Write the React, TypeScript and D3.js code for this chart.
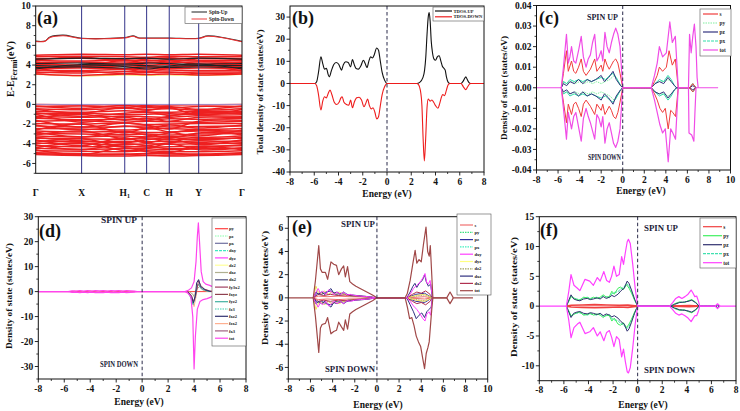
import React from 'react';
import * as d3 from 'd3';

type Pt = [number, number];

const SERIF = '"Liberation Serif", "Times New Roman", serif';

// ---------- (a) band structure ----------
const K_POS = [0, 0.2226, 0.4316, 0.5377, 0.6473, 0.7901, 1];
const K_LABELS = ['Γ', 'X', 'H1', 'C', 'H', 'Y', 'Γ'];

// energies at Γ, X, H1, C, H, Y, Γ
const VB_DOWN: number[][] = [
  [-0.02, -0.05, -0.03, -0.08, -0.05, -0.04, -0.02],
  [-0.15, -0.4, -0.1, -0.3, -0.2, -0.5, -0.15],
  [-0.25, -0.15, -0.3, -0.2, -0.35, -0.2, -0.25],
  [-0.5, -0.9, -0.3, -0.6, -0.35, -1.1, -0.5],
  [-0.45, -0.55, -0.4, -0.5, -0.45, -0.6, -0.45],
  [-0.7, -0.8, -0.65, -0.75, -0.8, -0.7, -0.7],
  [-0.85, -1.2, -0.9, -0.8, -1.1, -0.9, -0.85],
  [-0.95, -0.9, -1.05, -1.0, -0.95, -1.0, -0.95],
  [-1.0, -1.8, -1.3, -1.6, -1.2, -0.8, -1.0],
  [-1.2, -1.3, -1.2, -1.25, -1.3, -1.15, -1.2],
  [-1.35, -1.0, -1.6, -1.4, -1.7, -1.3, -1.35],
  [-1.4, -1.55, -1.5, -1.6, -1.45, -1.5, -1.4],
  [-1.6, -2.3, -1.9, -2.1, -2.5, -1.7, -1.6],
  [-1.7, -1.65, -1.8, -1.7, -1.75, -1.8, -1.7],
  [-1.95, -2.0, -1.9, -2.05, -2.0, -1.95, -1.95],
  [-2.1, -2.6, -2.2, -2.4, -2.1, -2.4, -2.1],
  [-2.2, -2.3, -2.25, -2.2, -2.3, -2.25, -2.2],
  [-2.45, -2.5, -2.6, -2.5, -2.45, -2.55, -2.45],
  [-2.6, -2.0, -2.9, -2.4, -2.8, -3.2, -2.6],
  [-2.7, -2.8, -2.75, -2.85, -2.8, -2.7, -2.7],
  [-2.8, -3.3, -2.8, -3.1, -3.4, -2.9, -2.8],
  [-2.95, -3.0, -3.05, -3.0, -3.1, -3.0, -2.95],
  [-3.1, -2.7, -3.5, -3.3, -2.9, -2.6, -3.1],
  [-3.2, -3.3, -3.2, -3.3, -3.25, -3.35, -3.2],
  [-3.35, -3.7, -3.9, -3.6, -3.35, -3.6, -3.35],
  [-3.45, -3.5, -3.55, -3.5, -3.6, -3.5, -3.45],
  [-3.6, -4.2, -3.4, -3.9, -3.5, -4.1, -3.6],
  [-3.7, -3.8, -3.75, -3.8, -3.75, -3.85, -3.7],
  [-3.85, -3.5, -4.3, -4.2, -3.9, -3.7, -3.85],
  [-3.95, -4.0, -4.1, -4.0, -4.05, -4.0, -3.95],
  [-4.1, -4.6, -4.0, -4.2, -4.5, -4.4, -4.1],
  [-4.2, -4.3, -4.25, -4.35, -4.3, -4.25, -4.2],
  [-4.4, -3.9, -4.7, -4.5, -4.0, -4.6, -4.4],
  [-4.45, -4.55, -4.5, -4.5, -4.6, -4.5, -4.45],
  [-4.6, -5.1, -4.4, -4.8, -4.9, -4.3, -4.6],
  [-4.7, -4.75, -4.8, -4.7, -4.8, -4.8, -4.7],
  [-4.9, -5.0, -5.05, -5.0, -5.0, -5.05, -4.9],
  [-5.0, -5.15, -5.1, -5.15, -5.15, -5.1, -5.0],
  [-5.1, -5.2, -5.25, -5.2, -5.25, -5.2, -5.1],
];

const CB_DOWN: number[][] = [
  [3.1, 2.95, 3.1, 3.05, 3.1, 3.0, 3.1],
  [3.2, 3.35, 3.15, 3.25, 3.3, 3.15, 3.2],
  [3.3, 3.2, 3.35, 3.3, 3.25, 3.3, 3.3],
  [3.5, 3.45, 3.55, 3.5, 3.5, 3.45, 3.5],
  [3.4, 3.9, 3.6, 3.3, 3.7, 3.95, 3.4],
  [3.65, 3.7, 3.6, 3.7, 3.65, 3.7, 3.65],
  [3.85, 3.8, 3.9, 3.85, 3.8, 3.9, 3.85],
  [4.05, 4.0, 4.1, 4.0, 4.05, 4.0, 4.05],
  [4.3, 3.9, 4.5, 4.2, 4.4, 4.1, 4.3],
  [4.25, 4.3, 4.2, 4.3, 4.25, 4.3, 4.25],
  [4.45, 4.4, 4.5, 4.45, 4.5, 4.4, 4.45],
  [4.55, 4.8, 4.4, 4.6, 4.75, 4.5, 4.55],
  [4.65, 4.7, 4.6, 4.7, 4.65, 4.7, 4.65],
  [4.85, 4.9, 4.85, 4.8, 4.9, 4.85, 4.85],
  [5.0, 5.1, 5.05, 5.1, 5.05, 5.1, 5.0],
];

const CB_UP: number[][] = [
  [3.75, 3.8, 3.7, 3.8, 3.75, 3.8, 3.75],
  [3.95, 3.9, 4.0, 3.95, 3.9, 3.95, 3.95],
  [4.15, 4.2, 4.1, 4.2, 4.15, 4.1, 4.15],
  [4.6, 4.7, 4.65, 4.7, 4.6, 4.7, 4.6],
  [3.6, 4.05, 3.85, 3.6, 3.9, 4.1, 3.6],
];

const CB_EDGE = [3.05, 2.9, 3.0, 2.95, 3.0, 2.95, 3.05];

const TOP_K = [0, 0.045, 0.069, 0.134, 0.2226, 0.4316, 0.473, 0.497, 0.5377, 0.6473, 0.7901, 0.835, 1];
const TOP_UP = [6.43, 6.45, 6.85, 7.04, 6.73, 6.8, 6.97, 6.77, 6.75, 6.75, 6.73, 6.97, 6.4];
const TOP_DOWN = [6.4, 6.42, 6.8, 6.98, 6.7, 6.76, 6.92, 6.74, 6.72, 6.72, 6.7, 6.92, 6.37];

const A_YTICKS = [-6, -4, -2, 0, 2, 4, 6, 8, 10];
const A_YMINOR = [-7, -5, -3, -1, 1, 3, 5, 7, 9];

// ---------- (b) total DOS ----------
const B_UP: Pt[] = [[-8, 0], [-5.95, 0], [-5.8, 0.8], [-5.65, 5], [-5.45, 12], [-5.3, 9], [-5.15, 6.5], [-5.0, 6.8], [-4.85, 4], [-4.75, 3], [-4.6, 5.5], [-4.4, 8.5], [-4.2, 9.5], [-4.0, 8.8], [-3.85, 7], [-3.75, 6], [-3.6, 8.5], [-3.4, 9.8], [-3.2, 9.5], [-3.0, 7.5], [-2.85, 10.8], [-2.7, 8.5], [-2.55, 6.8], [-2.35, 6.5], [-2.15, 8], [-1.95, 10.5], [-1.8, 9], [-1.65, 7.2], [-1.5, 10], [-1.35, 12], [-1.2, 11.5], [-1.05, 13], [-0.85, 16], [-0.7, 15], [-0.55, 10], [-0.4, 5], [-0.2, 1.5], [0, 0], [2.45, 0], [2.7, 0.5], [2.95, 2.5], [3.1, 6], [3.2, 12], [3.3, 22], [3.4, 30], [3.48, 32], [3.56, 28], [3.65, 19], [3.75, 14], [3.88, 11], [4.0, 10.5], [4.15, 12], [4.3, 12.5], [4.45, 10], [4.55, 8], [4.7, 6.8], [4.8, 6], [4.9, 3], [5.05, 0.5], [5.2, 0], [6.1, 0], [6.3, 1.2], [6.5, 3], [6.6, 2], [6.75, 0.5], [6.9, 0], [8, 0]];
const B_DOWN: Pt[] = [[-8, 0], [-5.95, 0], [-5.8, -1], [-5.65, -5], [-5.45, -12], [-5.3, -8], [-5.15, -6], [-5.0, -6.5], [-4.85, -4.5], [-4.7, -3], [-4.55, -5], [-4.35, -8.5], [-4.15, -9.5], [-3.95, -8.5], [-3.8, -6.5], [-3.7, -6], [-3.55, -8.5], [-3.35, -9.5], [-3.15, -9.8], [-3.0, -7.5], [-2.85, -11], [-2.7, -8.5], [-2.5, -6.5], [-2.3, -6.2], [-2.1, -7.5], [-1.9, -10.5], [-1.75, -9], [-1.6, -7], [-1.45, -10], [-1.3, -11.5], [-1.15, -11], [-1.0, -13], [-0.85, -16], [-0.7, -15], [-0.55, -10], [-0.4, -5], [-0.2, -1.5], [0, 0], [2.45, 0], [2.6, -0.5], [2.75, -3], [2.88, -10], [2.98, -25], [3.08, -35], [3.18, -26], [3.3, -11], [3.4, -7], [3.55, -8], [3.7, -7.5], [3.85, -8.5], [4.0, -10], [4.2, -11.2], [4.35, -9], [4.5, -6], [4.6, -5], [4.75, -5.5], [4.9, -3], [5.05, -0.5], [5.2, 0], [6.1, 0], [6.3, -1.5], [6.5, -2.8], [6.65, -1.5], [6.8, -0.3], [6.9, 0], [8, 0]];
const B_YTICKS = [-40, -30, -20, -10, 0, 10, 20, 30];
const B_YMINOR = [-35, -25, -15, -5, 5, 15, 25];

// ---------- (c) PDOS ----------
const C_S_UP: Pt[] = [[-5.7, 0], [-5.5, 0.007], [-5.22, 0.018], [-5.05, 0.008], [-4.75, 0.013], [-4.55, 0.008], [-4.35, 0.007], [-4.1, 0.01], [-3.85, 0.014], [-3.65, 0.008], [-3.4, 0.006], [-3.0, 0.009], [-2.6, 0.014], [-2.4, 0.008], [-2.0, 0.011], [-1.85, 0.008], [-1.65, 0.014], [-1.45, 0.011], [-1.25, 0.009], [-1.05, 0.011], [-0.85, 0.013], [-0.65, 0.014], [-0.45, 0.012], [-0.25, 0.007], [0, 0], [2.65, 0], [2.95, 0.003], [3.2, 0.006], [3.4, 0.01], [3.7, 0.008], [4.05, 0.01], [4.3, 0.018], [4.6, 0.011], [4.88, 0.014], [5.15, 0], [6.2, 0], [6.5, 0.002], [6.8, 0]];
const C_PY_UP: Pt[] = [[-5.7, 0], [-5.5, 0.003], [-5.2, 0.002], [-4.8, 0.003], [-4.4, 0.002], [-4.0, 0.003], [-3.6, 0.002], [-3.2, 0.003], [-2.8, 0.002], [-2.4, 0.003], [-2.0, 0.002], [-1.6, 0.003], [-1.2, 0.004], [-0.8, 0.006], [-0.4, 0.003], [0, 0], [2.65, 0], [3.0, 0.002], [3.4, 0.003], [3.8, 0.003], [4.2, 0.004], [4.5, 0.003], [5.0, 0], [6.2, 0], [6.5, 0.002], [6.8, 0]];
const C_PZ_UP: Pt[] = [[-5.7, 0], [-5.5, 0.002], [-5.2, 0.001], [-4.9, 0.003], [-4.5, 0.002], [-4.1, 0.004], [-3.7, 0.002], [-3.3, 0.004], [-2.9, 0.003], [-2.5, 0.004], [-2.0, 0.006], [-1.7, 0.003], [-1.3, 0.005], [-0.9, 0.008], [-0.6, 0.004], [-0.2, 0.001], [0, 0], [2.65, 0], [3.0, 0.002], [3.4, 0.003], [3.8, 0.002], [4.2, 0.005], [4.5, 0.003], [4.8, 0.001], [5.0, 0], [6.2, 0], [6.5, 0.001], [6.8, 0]];
const C_PX_UP: Pt[] = [[-5.7, 0], [-5.5, 0.003], [-5.2, 0.002], [-4.9, 0.004], [-4.5, 0.003], [-4.1, 0.004], [-3.7, 0.003], [-3.3, 0.004], [-2.9, 0.003], [-2.5, 0.004], [-2.0, 0.005], [-1.6, 0.004], [-1.2, 0.006], [-0.9, 0.007], [-0.6, 0.005], [-0.2, 0.001], [0, 0], [2.65, 0], [3.0, 0.002], [3.4, 0.004], [3.8, 0.003], [4.2, 0.006], [4.5, 0.004], [4.8, 0.001], [5.0, 0], [6.2, 0], [6.5, 0.002], [6.8, 0]];
const C_TOT_UP: Pt[] = [[-5.7, 0], [-5.5, 0.01], [-5.22, 0.026], [-5.05, 0.012], [-4.9, 0.015], [-4.75, 0.02], [-4.55, 0.013], [-4.35, 0.012], [-4.1, 0.018], [-3.85, 0.025], [-3.65, 0.015], [-3.4, 0.01], [-3.2, 0.014], [-3.0, 0.016], [-2.8, 0.022], [-2.6, 0.026], [-2.4, 0.013], [-2.2, 0.015], [-2.0, 0.018], [-1.85, 0.013], [-1.65, 0.027], [-1.45, 0.02], [-1.25, 0.017], [-1.05, 0.022], [-0.85, 0.026], [-0.65, 0.029], [-0.45, 0.026], [-0.25, 0.02], [0, 0], [2.65, 0], [2.95, 0.006], [3.2, 0.012], [3.4, 0.02], [3.7, 0.015], [4.05, 0.017], [4.37, 0.032], [4.6, 0.022], [4.88, 0.025], [5.15, 0], [6.1, 0], [6.2, 0.026], [6.35, 0.017], [6.5, 0.025], [6.65, 0.031], [6.8, 0.02], [6.9, 0.005], [7.0, 0]];
const C_TOT_DOWN: Pt[] = [[-5.7, 0], [-5.5, -0.01], [-5.22, -0.025], [-5.05, -0.012], [-4.9, -0.016], [-4.75, -0.02], [-4.55, -0.014], [-4.35, -0.012], [-4.1, -0.019], [-3.85, -0.026], [-3.65, -0.015], [-3.4, -0.01], [-3.2, -0.014], [-3.0, -0.017], [-2.8, -0.021], [-2.6, -0.025], [-2.4, -0.013], [-2.2, -0.015], [-2.0, -0.019], [-1.85, -0.014], [-1.65, -0.027], [-1.45, -0.02], [-1.25, -0.017], [-1.05, -0.022], [-0.85, -0.027], [-0.65, -0.029], [-0.45, -0.026], [-0.25, -0.02], [0, 0], [2.65, 0], [2.95, -0.006], [3.2, -0.012], [3.45, -0.018], [3.7, -0.022], [3.95, -0.02], [4.22, -0.036], [4.45, -0.02], [4.65, -0.022], [4.9, -0.025], [5.15, 0], [6.1, 0], [6.15, -0.022], [6.4, -0.023], [6.6, -0.026], [6.7, -0.012], [6.8, 0]];
const C_S_DOWN: Pt[] = [[-5.7, 0], [-5.5, -0.007], [-5.22, -0.017], [-5.05, -0.008], [-4.75, -0.013], [-4.55, -0.008], [-4.35, -0.007], [-4.1, -0.01], [-3.85, -0.014], [-3.65, -0.008], [-3.4, -0.006], [-3.0, -0.009], [-2.6, -0.013], [-2.4, -0.008], [-2.0, -0.011], [-1.85, -0.008], [-1.65, -0.013], [-1.45, -0.011], [-1.25, -0.009], [-1.05, -0.011], [-0.85, -0.014], [-0.65, -0.015], [-0.45, -0.012], [-0.25, -0.007], [0, 0], [2.65, 0], [2.95, -0.003], [3.2, -0.006], [3.45, -0.01], [3.7, -0.012], [3.95, -0.01], [4.22, -0.02], [4.45, -0.011], [4.65, -0.012], [4.9, -0.014], [5.15, 0], [6.2, 0], [6.5, -0.002], [6.8, 0]];
const C_YTICKS = [-0.04, -0.03, -0.02, -0.01, 0, 0.01, 0.02, 0.03, 0.04];
const C_YMINOR = [-0.035, -0.025, -0.015, -0.005, 0.005, 0.015, 0.025, 0.035];

// ---------- (d) PDOS ----------
const D_TOT_UP: Pt[] = [[-5.7, 0], [-5.4, 0.3], [-5.1, 0.2], [-4.8, 0.4], [-4.5, 0.2], [-4.2, 0.4], [-3.9, 0.2], [-3.6, 0.4], [-3.3, 0.3], [-3.0, 0.4], [-2.7, 0.2], [-2.4, 0.4], [-2.1, 0.3], [-1.8, 0.4], [-1.5, 0.2], [-1.2, 0.4], [-0.9, 0.3], [-0.6, 0.2], [-0.4, 0], [3.3, 0], [3.55, 0.5], [3.8, 1.5], [4.0, 4], [4.15, 12], [4.25, 22], [4.33, 27.5], [4.42, 20], [4.55, 8], [4.7, 4], [4.9, 3], [5.2, 2.5], [5.5, 1.8], [5.7, 0.8], [5.85, 0.2], [6.0, 0]];
const D_TOT_DOWN: Pt[] = [[-5.7, 0], [-5.4, -0.3], [-5.1, -0.2], [-4.8, -0.4], [-4.5, -0.2], [-4.2, -0.4], [-3.9, -0.2], [-3.6, -0.4], [-3.3, -0.3], [-3.0, -0.4], [-2.7, -0.2], [-2.4, -0.4], [-2.1, -0.3], [-1.8, -0.4], [-1.5, -0.2], [-1.2, -0.4], [-0.9, -0.3], [-0.6, -0.2], [-0.4, 0], [3.3, 0], [3.5, -0.5], [3.75, -2], [3.9, -10], [4.0, -31], [4.1, -18], [4.25, -7], [4.45, -4], [4.7, -3.2], [5.0, -2.8], [5.3, -2.2], [5.55, -1.2], [5.75, -0.4], [5.9, 0]];
const D_FY3X2: Pt[] = [[3.5, 0], [3.8, -1.5], [3.95, -4], [4.1, -2], [4.2, 0.5], [4.35, 4.5], [4.5, 2.5], [4.8, 1], [5.2, 0.3], [5.6, 0]];
const D_FXZ2: Pt[] = [[3.5, 0], [3.8, -2], [3.95, -4.5], [4.1, -1.5], [4.2, 3.5], [4.35, 4.8], [4.5, 2], [4.9, 0.6], [5.3, 0]];
const D_FYZ2: Pt[] = [[3.5, 0], [3.8, -3], [3.92, -5.2], [4.1, -2], [4.2, 1], [4.3, 3], [4.55, 1.2], [5.0, 0.2], [5.3, 0]];
const D_FZX2: Pt[] = [[3.5, 0], [3.85, -3], [4.0, -6], [4.15, -2], [4.25, 2], [4.35, 3], [4.6, 1], [5.1, 0]];
const D_DXZ: Pt[] = [[3.6, 0], [3.9, -1], [4.0, -2], [4.15, 0.5], [4.4, 2], [4.7, 0.5], [5.2, 0]];
const D_PY: Pt[] = [[-5.6, 0], [-5.2, 0.15], [-4.6, -0.1], [-4.0, 0.2], [-3.4, -0.15], [-2.8, 0.15], [-2.2, -0.1], [-1.6, 0.15], [-1.0, -0.1], [-0.5, 0]];
const D_YTICKS = [-30, -20, -10, 0, 10, 20, 30];
const D_YMINOR = [-35, -25, -15, -5, 5, 15, 25];

// ---------- (e) PDOS ----------
const E_TOT_UP: Pt[] = [[-5.75, 0], [-5.55, 1.5], [-5.25, 4.5], [-5.1, 2.5], [-4.95, 2.2], [-4.65, 2.2], [-4.45, 1.6], [-4.15, 3.1], [-3.9, 2.9], [-3.65, 2.8], [-3.45, 2.0], [-3.2, 2.5], [-3.0, 2.75], [-2.85, 1.8], [-2.65, 2.7], [-2.45, 1.4], [-2.2, 1.2], [-1.9, 1.0], [-1.6, 0.85], [-1.3, 0.7], [-1.0, 0.55], [-0.7, 0.4], [-0.4, 0.25], [0, 0], [2.55, 0], [2.75, 0.4], [3.0, 1.5], [3.25, 3.0], [3.45, 4.1], [3.6, 3.0], [3.8, 3.3], [4.0, 3.1], [4.2, 4.6], [4.43, 6.1], [4.58, 4.0], [4.72, 3.6], [4.82, 4.5], [4.95, 2.0], [5.05, 0], [6.3, 0], [6.6, 0.5], [6.9, 0]];
const E_TOT_DOWN: Pt[] = [[-5.75, 0], [-5.55, -1.6], [-5.25, -4.7], [-5.1, -2.6], [-4.95, -2.3], [-4.65, -2.2], [-4.45, -1.7], [-4.15, -3.1], [-3.9, -2.9], [-3.65, -2.8], [-3.45, -2.1], [-3.2, -2.5], [-3.0, -2.8], [-2.85, -1.9], [-2.65, -2.7], [-2.45, -1.4], [-2.2, -1.2], [-1.9, -1.0], [-1.6, -0.85], [-1.3, -0.7], [-1.0, -0.55], [-0.7, -0.4], [-0.4, -0.25], [0, 0], [2.55, 0], [2.75, -0.8], [2.95, -1.8], [3.15, -1.7], [3.35, -2.4], [3.55, -3.3], [3.75, -3.8], [3.95, -4.2], [4.15, -5.3], [4.3, -6.1], [4.45, -4.8], [4.6, -4.3], [4.72, -3.8], [4.85, -2.2], [4.95, -1.0], [5.05, 0], [6.3, 0], [6.6, -0.5], [6.9, 0]];
const E_DXY_UP: Pt[] = [[-5.75, 0], [-5.55, 0.4], [-5.3, 0.8], [-5.1, 0.4], [-4.9, 0.6], [-4.6, 0.3], [-4.35, 0.7], [-4.1, 0.5], [-3.85, 0.3], [-3.6, 0.5], [-3.3, 0.3], [-3.0, 0.5], [-2.7, 0.25], [-2.4, 0.3], [-2.0, 0.2], [-1.5, 0.15], [-1.0, 0.12], [-0.5, 0.06], [0, 0], [2.7, 0], [3.0, 0.3], [3.3, 0.8], [3.5, 1.0], [3.75, 1.2], [4.0, 1.5], [4.2, 1.8], [4.34, 2.1], [4.5, 1.3], [4.65, 1.2], [4.8, 1.5], [4.95, 0.5], [5.05, 0]];
const E_DXY_DOWN: Pt[] = [[-5.75, 0], [-5.55, -0.4], [-5.3, -0.8], [-5.1, -0.4], [-4.9, -0.6], [-4.6, -0.3], [-4.35, -0.7], [-4.1, -0.5], [-3.85, -0.3], [-3.6, -0.5], [-3.3, -0.3], [-3.0, -0.5], [-2.7, -0.25], [-2.4, -0.3], [-2.0, -0.2], [-1.5, -0.15], [-1.0, -0.12], [-0.5, -0.06], [0, 0], [2.7, 0], [3.0, -0.3], [3.3, -0.7], [3.6, -1.0], [3.9, -1.4], [4.15, -1.8], [4.34, -2.0], [4.5, -1.4], [4.7, -1.2], [4.85, -1.5], [5.0, 0]];
const E_DXZ_UP: Pt[] = [[-5.75, 0], [-5.5, 0.5], [-5.3, 0.3], [-5.0, 0.5], [-4.7, 0.3], [-4.4, 0.6], [-4.15, 0.8], [-3.9, 0.4], [-3.6, 0.5], [-3.3, 0.3], [-3.0, 0.5], [-2.7, 0.3], [-2.3, 0.25], [-1.8, 0.2], [-1.2, 0.15], [-0.6, 0.08], [0, 0], [2.7, 0], [3.0, 0.5], [3.25, 1.0], [3.43, 1.25], [3.6, 0.9], [3.85, 1.3], [4.1, 1.5], [4.3, 2.0], [4.45, 1.4], [4.65, 1.0], [4.85, 1.2], [5.0, 0]];
const E_DXZ_DOWN: Pt[] = [[-5.75, 0], [-5.5, -0.5], [-5.3, -0.3], [-5.0, -0.5], [-4.7, -0.3], [-4.4, -0.6], [-4.15, -0.8], [-3.9, -0.4], [-3.6, -0.5], [-3.3, -0.3], [-3.0, -0.5], [-2.7, -0.3], [-2.3, -0.25], [-1.8, -0.2], [-1.2, -0.15], [-0.6, -0.08], [0, 0], [2.7, 0], [3.0, -0.6], [3.3, -1.2], [3.55, -1.8], [3.8, -1.5], [4.05, -1.3], [4.3, -1.7], [4.5, -1.2], [4.7, -1.0], [4.9, -0.8], [5.0, 0]];
const E_DYZ_UP: Pt[] = [[-5.75, 0], [-5.5, 1.0], [-5.3, 0.5], [-5.0, 0.4], [-4.7, 0.6], [-4.4, 0.3], [-4.1, 0.5], [-3.8, 0.4], [-3.4, 0.5], [-3.0, 0.3], [-2.5, 0.2], [-2.0, 0.15], [-1.0, 0.1], [0, 0], [2.7, 0], [3.5, 0.2], [4.3, 0.3], [5.0, 0]];
const E_DZ2_UP: Pt[] = [[-5.75, 0], [-5.45, 0.6], [-5.2, 0.3], [-4.9, 0.4], [-4.5, 0.3], [-4.0, 0.45], [-3.5, 0.3], [-3.0, 0.35], [-2.5, 0.2], [-1.5, 0.15], [-0.5, 0.05], [0, 0], [2.7, 0], [3.5, 0.15], [4.3, 0.25], [5.0, 0]];
const E_DX2_UP: Pt[] = [[-5.75, 0], [-5.3, 0.3], [-4.8, 0.2], [-4.2, 0.3], [-3.5, 0.2], [-2.8, 0.25], [-2.0, 0.15], [-1.0, 0.1], [0, 0], [2.7, 0], [3.2, 0.3], [3.6, 0.5], [4.0, 0.4], [4.4, 0.6], [4.8, 0.3], [5.0, 0]];
const E_PZ_UP: Pt[] = [[-5.75, 0], [-5.4, 0.4], [-5.0, 0.3], [-4.6, 0.5], [-4.15, 0.6], [-3.7, 0.3], [-3.2, 0.4], [-2.6, 0.2], [-2.0, 0.15], [-1.0, 0.1], [0, 0], [2.7, 0], [3.5, 0.3], [4.3, 0.4], [5.0, 0]];
const E_S_UP: Pt[] = [[-5.75, 0], [-5.3, 0.15], [-4.5, 0.1], [-3.5, 0.15], [-2.5, 0.1], [-1.5, 0.08], [0, 0], [2.7, 0], [4.3, 0.1], [5.0, 0]];
const E_YTICKS = [-6, -4, -2, 0, 2, 4, 6];
const E_YMINOR = [-7, -5, -3, -1, 1, 3, 5, 7];

// ---------- (f) PDOS ----------
const F_TOT_UP: Pt[] = [[-5.8, 0], [-5.6, 2.5], [-5.42, 5.3], [-5.18, 3.5], [-4.9, 3.0], [-4.7, 2.6], [-4.28, 4.5], [-3.9, 4.2], [-3.6, 3.5], [-3.28, 4.8], [-3.05, 4.2], [-2.75, 5.8], [-2.52, 4.3], [-2.3, 4.0], [-2.12, 5.0], [-1.93, 6.7], [-1.72, 5.0], [-1.5, 5.3], [-1.3, 8.3], [-1.15, 7.0], [-1.0, 9.0], [-0.85, 10.8], [-0.75, 11.2], [-0.6, 10.5], [-0.4, 7.0], [-0.2, 3.0], [0, 0], [2.6, 0], [2.85, 0.6], [3.1, 1.3], [3.35, 1.6], [3.6, 1.3], [3.85, 1.6], [4.1, 2.0], [4.35, 2.7], [4.5, 2.2], [4.65, 1.6], [4.8, 1.7], [4.95, 0.8], [5.05, 0], [6.3, 0], [6.5, 0.4], [6.7, 0]];
const F_TOT_DOWN: Pt[] = [[-5.8, 0], [-5.6, -2.4], [-5.42, -5.3], [-5.18, -3.6], [-4.9, -3.0], [-4.7, -2.7], [-4.28, -4.6], [-3.9, -4.3], [-3.6, -3.6], [-3.28, -5.0], [-3.05, -4.3], [-2.75, -5.8], [-2.52, -4.4], [-2.3, -4.1], [-2.12, -5.2], [-1.93, -6.8], [-1.72, -5.1], [-1.5, -5.6], [-1.3, -8.5], [-1.15, -7.2], [-1.0, -9.3], [-0.85, -11.0], [-0.75, -11.2], [-0.6, -10.3], [-0.4, -7.0], [-0.2, -3.0], [0, 0], [2.6, 0], [2.85, -0.6], [3.1, -1.2], [3.35, -1.5], [3.6, -1.3], [3.85, -1.6], [4.1, -2.0], [4.35, -2.6], [4.5, -2.1], [4.65, -1.6], [4.8, -1.6], [4.95, -0.8], [5.05, 0], [6.3, 0], [6.5, -0.4], [6.7, 0]];
const F_PZ_UP: Pt[] = [[-5.8, 0], [-5.6, 1.0], [-5.42, 1.9], [-5.2, 1.2], [-4.95, 1.0], [-4.7, 0.9], [-4.4, 1.2], [-4.1, 1.3], [-3.85, 1.1], [-3.6, 1.2], [-3.3, 1.4], [-3.05, 1.2], [-2.8, 1.6], [-2.55, 1.3], [-2.3, 1.5], [-2.1, 1.8], [-1.9, 1.6], [-1.6, 2.0], [-1.35, 2.6], [-1.1, 3.0], [-0.85, 4.2], [-0.7, 3.8], [-0.5, 2.7], [-0.25, 1.2], [0, 0], [2.7, 0], [3.0, 0.3], [3.4, 0.6], [3.8, 0.7], [4.1, 0.8], [4.4, 1.0], [4.7, 0.6], [5.0, 0], [6.35, 0], [6.5, 0.2], [6.65, 0]];
const F_PY_UP: Pt[] = [[-5.8, 0], [-5.6, 0.8], [-5.42, 1.6], [-5.2, 1.4], [-4.95, 1.1], [-4.7, 1.0], [-4.4, 1.5], [-4.1, 1.4], [-3.85, 1.2], [-3.6, 1.5], [-3.3, 1.3], [-3.05, 1.5], [-2.8, 1.9], [-2.55, 1.5], [-2.3, 1.6], [-2.1, 2.5], [-1.9, 2.0], [-1.6, 3.0], [-1.4, 3.2], [-1.15, 2.8], [-0.9, 3.6], [-0.7, 3.0], [-0.5, 2.2], [-0.25, 1.0], [0, 0], [2.7, 0], [3.0, 0.4], [3.4, 0.7], [3.8, 0.6], [4.1, 0.9], [4.4, 1.1], [4.7, 0.7], [5.0, 0], [6.35, 0], [6.5, 0.25], [6.65, 0]];
const F_PX_UP: Pt[] = [[-5.8, 0], [-5.6, 0.9], [-5.42, 1.7], [-5.2, 1.3], [-4.95, 1.2], [-4.7, 1.1], [-4.4, 1.4], [-4.1, 1.5], [-3.85, 1.3], [-3.6, 1.4], [-3.3, 1.5], [-3.05, 1.3], [-2.8, 1.7], [-2.55, 1.6], [-2.3, 1.4], [-2.1, 2.1], [-1.9, 2.3], [-1.6, 2.4], [-1.4, 2.9], [-1.15, 3.1], [-0.9, 3.8], [-0.7, 3.4], [-0.5, 2.4], [-0.25, 1.1], [0, 0], [2.7, 0], [3.0, 0.35], [3.4, 0.65], [3.8, 0.65], [4.1, 0.85], [4.4, 1.05], [4.7, 0.65], [5.0, 0], [6.35, 0], [6.5, 0.22], [6.65, 0]];
const F_S_UP: Pt[] = [[-5.8, 0], [-5.4, 0.15], [-4.5, 0.2], [-3.5, 0.25], [-2.5, 0.2], [-1.5, 0.15], [-0.8, 0.2], [0, 0], [2.7, 0], [4.2, 0.1], [5.0, 0]];
const F_YTICKS = [-10, -5, 0, 5, 10, 15];
const F_YMINOR = [-12.5, -7.5, -2.5, 2.5, 7.5, 12.5];

const X_TICKS_16 = [-8, -6, -4, -2, 0, 2, 4, 6, 8];
const X_MINOR_16 = [-7, -5, -3, -1, 1, 3, 5, 7];
const X_TICKS_18 = [-8, -6, -4, -2, 0, 2, 4, 6, 8, 10];
const X_MINOR_18 = [-7, -5, -3, -1, 1, 3, 5, 7, 9];

const neg = (p: Pt[]): Pt[] => p.map(([e, v]) => [e, -v] as Pt);
const span = (p: Pt[], a: number, b: number): Pt[] => [[a, 0], ...p, [b, 0]];

type Curve = { pts: Pt[]; color: string; w?: number; dash?: string };
type Row = { name: string; color: string; dash?: string };
type Legend = { x: number; y: number; w: number; h: number; y0: number; dy: number; lx0: number; lx1: number; tx: number; fs: number; rows: Row[] };
type Spin = { text: string; x: number; y: number; len: number; anchor?: string };

type PanelProps = {
  id: string;
  x0: number; x1: number; y0: number; y1: number;
  xd: [number, number]; yd: [number, number];
  xTicks: number[]; xMinor: number[]; yTicks: number[]; yMinor: number[];
  yFmt: (v: number) => string;
  curves: Curve[];
  smooth?: boolean;
  label: string; labelX: number; labelY: number;
  yTitle: string; yTitleX: number; yTitleY: number; yTitleLen: number;
  xTitleX: number; xTitleY: number;
  legend: Legend;
  spins: Spin[];
};

function LegendBox({ lg }: { lg: Legend }) {
  return (
    <g>
      <rect x={lg.x} y={lg.y} width={lg.w} height={lg.h} fill="#fff" stroke="#555" strokeWidth={0.6} />
      {lg.rows.map((r, i) => {
        const yy = lg.y0 + i * lg.dy;
        return (
          <g key={r.name + i}>
            <line x1={lg.lx0} x2={lg.lx1} y1={yy} y2={yy} stroke={r.color} strokeWidth={1.2} strokeDasharray={r.dash} />
            <text x={lg.tx} y={yy + lg.fs * 0.35} fontSize={lg.fs} fontWeight="bold" fontFamily={SERIF} fill="#222">{r.name}</text>
          </g>
        );
      })}
    </g>
  );
}

function Axes(p: {
  x0: number; x1: number; y0: number; y1: number;
  x?: d3.ScaleLinear<number, number>; y: d3.ScaleLinear<number, number>;
  xTicks?: number[]; xMinor?: number[]; yTicks: number[]; yMinor: number[];
  yFmt: (v: number) => string;
}) {
  const { x0, x1, y0, y1, x, y } = p;
  return (
    <g fontFamily={SERIF} fontWeight="bold" fontSize={9.5} fill="#111">
      <rect x={x0} y={y0} width={x1 - x0} height={y1 - y0} fill="none" stroke="#111" strokeWidth={1} />
      {p.yTicks.map((t) => (
        <g key={'y' + t}>
          <line x1={x0 - 3.5} x2={x0} y1={y(t)} y2={y(t)} stroke="#111" strokeWidth={0.9} />
          <text x={x0 - 5} y={y(t) + 3.2} textAnchor="end">{p.yFmt(t)}</text>
        </g>
      ))}
      {p.yMinor.map((t) => (
        <line key={'ym' + t} x1={x0 - 2} x2={x0} y1={y(t)} y2={y(t)} stroke="#111" strokeWidth={0.8} />
      ))}
      {x && p.xTicks && p.xTicks.map((t) => (
        <g key={'x' + t}>
          <line x1={x(t)} x2={x(t)} y1={y1} y2={y1 + 3.5} stroke="#111" strokeWidth={0.9} />
          <text x={x(t)} y={y1 + 12.5} textAnchor="middle">{String(t)}</text>
        </g>
      ))}
      {x && p.xMinor && p.xMinor.map((t) => (
        <line key={'xm' + t} x1={x(t)} x2={x(t)} y1={y1} y2={y1 + 2} stroke="#111" strokeWidth={0.8} />
      ))}
    </g>
  );
}

function DosPanel(p: PanelProps) {
  const x = d3.scaleLinear(p.xd, [p.x0, p.x1]);
  const y = d3.scaleLinear(p.yd, [p.y1, p.y0]);
  const line = d3
    .line<Pt>()
    .x((d) => x(d[0]))
    .y((d) => y(d[1]))
    .curve(p.smooth ? d3.curveMonotoneX : d3.curveLinear);
  return (
    <g>
      <defs>
        <clipPath id={p.id}>
          <rect x={p.x0} y={p.y0} width={p.x1 - p.x0} height={p.y1 - p.y0} />
        </clipPath>
      </defs>
      <g clipPath={`url(#${p.id})`}>
        {p.curves.map((c, i) => (
          <path key={i} d={line(c.pts) ?? ''} fill="none" stroke={c.color} strokeWidth={c.w ?? 1} strokeDasharray={c.dash} strokeLinejoin="round" />
        ))}
      </g>
      <line x1={x(0)} x2={x(0)} y1={p.y0} y2={p.y1} stroke="#2a2a4a" strokeWidth={1} strokeDasharray="3.5,2.5" />
      <Axes x0={p.x0} x1={p.x1} y0={p.y0} y1={p.y1} x={x} y={y} xTicks={p.xTicks} xMinor={p.xMinor} yTicks={p.yTicks} yMinor={p.yMinor} yFmt={p.yFmt} />
      <LegendBox lg={p.legend} />
      {p.spins.map((s) => (
        <text key={s.text} x={s.x} y={s.y} textAnchor={s.anchor ?? 'start'} fontSize={8} fontWeight="bold" fontFamily={SERIF} fill="#1c1c38" textLength={s.len} lengthAdjust="spacingAndGlyphs">{s.text}</text>
      ))}
      <text x={p.labelX} y={p.labelY} fontSize={18} fontWeight="bold" fontFamily={SERIF} fill="#111">{p.label}</text>
      <text transform={`translate(${p.yTitleX},${p.yTitleY}) rotate(-90)`} textAnchor="middle" fontSize={8.5} fontWeight="bold" fontFamily={SERIF} fill="#111" textLength={p.yTitleLen} lengthAdjust="spacingAndGlyphs">{p.yTitle}</text>
      <text x={p.xTitleX} y={p.xTitleY} textAnchor="middle" fontSize={9.5} fontWeight="bold" fontFamily={SERIF} fill="#111">Energy (eV)</text>
    </g>
  );
}

function BandPanel() {
  const x0 = 35.7, x1 = 242, y0 = 6, y1 = 173.3;
  const x = d3.scaleLinear([0, 1], [x0, x1]);
  const y = d3.scaleLinear([-7, 10], [y1, y0]);
  const band = (ks: number[], es: number[]) =>
    d3.line<number>().x((_, i) => x(ks[i])).y((d) => y(d)).curve(d3.curveCatmullRom)(es) ?? '';
  return (
    <g>
      <defs>
        <clipPath id="clipA">
          <rect x={x0} y={y0} width={x1 - x0} height={y1 - y0} />
        </clipPath>
      </defs>
      <g clipPath="url(#clipA)" fill="none">
        <path d={band(K_POS, CB_EDGE)} stroke="#f5e070" strokeWidth={1.2} />
        {CB_DOWN.map((b, i) => (
          <path key={'cd' + i} d={band(K_POS, b)} stroke="#ee2020" strokeWidth={1.5} />
        ))}
        {CB_UP.map((b, i) => (
          <path key={'cu' + i} d={band(K_POS, b)} stroke="#222" strokeWidth={1.1} />
        ))}
        {VB_DOWN.map((b, i) => (
          <path key={'vd' + i} d={band(K_POS, b)} stroke="#ee2020" strokeWidth={1.5} />
        ))}
        <line x1={x0} x2={x1} y1={y(0)} y2={y(0)} stroke="#a090d0" strokeWidth={1} />
        <path d={band(TOP_K, TOP_UP)} stroke="#333" strokeWidth={1.1} />
        <path d={band(TOP_K, TOP_DOWN)} stroke="#ee3030" strokeWidth={1.1} />
      </g>
      {K_POS.slice(1, -1).map((k) => (
        <line key={k} x1={x(k)} x2={x(k)} y1={y0} y2={y1} stroke="#33338a" strokeWidth={1} />
      ))}
      <Axes x0={x0} x1={x1} y0={y0} y1={y1} y={y} yTicks={A_YTICKS} yMinor={A_YMINOR} yFmt={(v) => String(v)} />
      {K_LABELS.map((l, i) => (
        <text key={i} x={x(K_POS[i])} y={195.5} textAnchor="middle" fontSize={9.5} fontWeight="bold" fontFamily={SERIF} fill="#111">
          {l === 'H1' ? (
            <>
              H<tspan fontSize={6} dy={2.5}>1</tspan>
            </>
          ) : l}
        </text>
      ))}
      <LegendBox lg={{ x: 185, y: 7, w: 57, h: 16.5, y0: 12, dy: 7, lx0: 191.5, lx1: 207, tx: 209, fs: 5.2, rows: [{ name: 'Spin-Up', color: '#444' }, { name: 'Spin-Down', color: '#f06060' }] }} />
      <text x={37} y={24} fontSize={18} fontWeight="bold" fontFamily={SERIF} fill="#111">(a)</text>
      <text transform="translate(14,97) rotate(-90)" fontSize={10} fontWeight="bold" fontFamily={SERIF} fill="#111">
        E-E<tspan fontSize={8} dy={3}>Fermi</tspan><tspan dy={-3}>(eV)</tspan>
      </text>
    </g>
  );
}

const F2 = (v: number) => v.toFixed(2);
const FI = (v: number) => String(v);

export default function App() {
  const legendC: Row[] = [
    { name: 's', color: '#f03c3c' },
    { name: 'py', color: '#80f0a0', dash: '1.5,1' },
    { name: 'pz', color: '#33337f' },
    { name: 'px', color: '#33ddaa', dash: '3,1' },
    { name: 'tot', color: '#f04ce6' },
  ];
  const legendD: Row[] = [
    { name: 'py', color: '#ff4040' },
    { name: 'pz', color: '#88ffaa', dash: '1.5,1' },
    { name: 'px', color: '#7070a0' },
    { name: 'dxy', color: '#40e8c0', dash: '3,1' },
    { name: 'dyz', color: '#ff40ff' },
    { name: 'dz2', color: '#ffff99' },
    { name: 'dxz', color: '#b0b090' },
    { name: 'dx2', color: '#505080' },
    { name: 'fy3x2', color: '#a04060' },
    { name: 'fxyz', color: '#904050' },
    { name: 'fyz2', color: '#40b0a0' },
    { name: 'fz3', color: '#40d0b0', dash: '1.5,1' },
    { name: 'fxz2', color: '#303070' },
    { name: 'fzx2', color: '#ffb090' },
    { name: 'fx3', color: '#a06080' },
    { name: 'tot', color: '#ff44ee' },
  ];
  const legendE: Row[] = [
    { name: 's', color: '#f07070' },
    { name: 'py', color: '#40e080', dash: '1.5,1' },
    { name: 'pz', color: '#3030a0' },
    { name: 'px', color: '#40f0c0', dash: '1.5,1' },
    { name: 'dxy', color: '#ff40ff' },
    { name: 'dyz', color: '#ffff80' },
    { name: 'dz2', color: '#a0a060', dash: '1.5,1' },
    { name: 'dxz', color: '#303080' },
    { name: 'dx2', color: '#b03050' },
    { name: 'tot', color: '#a04848' },
  ];
  const legendF: Row[] = [
    { name: 's', color: '#f04040' },
    { name: 'py', color: '#40f060' },
    { name: 'pz', color: '#303070' },
    { name: 'px', color: '#40e0b0', dash: '3,1' },
    { name: 'tot', color: '#ff40ff' },
  ];

  return (
    <svg width={740} height={411} viewBox="0 0 740 411" style={{ position: 'absolute', left: 0, top: 0, background: '#fff' }}>
      <rect width={740} height={411} fill="#fff" />
      <BandPanel />

      <DosPanel
        id="clipB" x0={290} x1={484} y0={6} y1={172} xd={[-8, 8]} yd={[-40, 35]}
        xTicks={X_TICKS_16} xMinor={X_MINOR_16} yTicks={B_YTICKS} yMinor={B_YMINOR} yFmt={FI}
        smooth
        curves={[
          { pts: B_UP, color: '#111', w: 1.1 },
          { pts: B_DOWN, color: '#ee1c1c', w: 1.1 },
        ]}
        label="(b)" labelX={292} labelY={24}
        yTitle="Total density of state (states/eV)" yTitleX={263} yTitleY={92} yTitleLen={125}
        xTitleX={387} xTitleY={197}
        legend={{ x: 433, y: 7, w: 51, h: 14, y0: 11, dy: 5.8, lx0: 435, lx1: 452, tx: 453.5, fs: 4.6, rows: [{ name: 'TDOS-UP', color: '#111' }, { name: 'TDOS-DOWN', color: '#ee2020' }] }}
        spins={[]}
      />

      <DosPanel
        id="clipC" x0={536.5} x1={730.5} y0={5.5} y1={170} xd={[-8, 10]} yd={[-0.04, 0.04]}
        xTicks={X_TICKS_18} xMinor={X_MINOR_18} yTicks={C_YTICKS} yMinor={C_YMINOR} yFmt={F2}
        curves={[
          { pts: C_PY_UP, color: '#80f0a0', dash: '1.5,1' },
          { pts: neg(C_PY_UP), color: '#80f0a0', dash: '1.5,1' },
          { pts: C_PX_UP, color: '#33ddaa' },
          { pts: neg(C_PX_UP), color: '#33ddaa' },
          { pts: C_PZ_UP, color: '#33337f' },
          { pts: neg(C_PZ_UP), color: '#33337f' },
          { pts: C_S_UP, color: '#f03c3c' },
          { pts: C_S_DOWN, color: '#f03c3c' },
          { pts: C_TOT_UP, color: '#f04ce6', w: 1.2 },
          { pts: span(C_TOT_DOWN, -8, 8.85), color: '#f04ce6', w: 1.2 },
        ]}
        label="(c)" labelX={539} labelY={24}
        yTitle="Density of state (states/eV)" yTitleX={507} yTitleY={88} yTitleLen={104}
        xTitleX={641} xTitleY={194}
        legend={{ x: 700, y: 9, w: 31, h: 47, y0: 14, dy: 9, lx0: 703, lx1: 718, tx: 719.5, fs: 5.3, rows: legendC }}
        spins={[
          { text: 'SPIN UP', x: 618, y: 20, len: 31, anchor: 'end' },
          { text: 'SPIN DOWN', x: 621, y: 160, len: 33, anchor: 'end' },
        ]}
      />

      <DosPanel
        id="clipD" x0={38.3} x1={246} y0={216.7} y1={379} xd={[-8, 8]} yd={[-35, 30]}
        xTicks={X_TICKS_16} xMinor={X_MINOR_16} yTicks={D_YTICKS} yMinor={D_YMINOR} yFmt={FI}
        curves={[
          { pts: span(D_PY, -8, 8), color: '#ff4040' },
          { pts: D_DXZ, color: '#b0b090' },
          { pts: D_FZX2, color: '#ffb090' },
          { pts: D_FYZ2, color: '#40b0a0' },
          { pts: D_FY3X2, color: '#a04060' },
          { pts: D_FXZ2, color: '#303070' },
          { pts: span(D_TOT_UP, -8, 8), color: '#ff44ee', w: 1.2 },
          { pts: span(D_TOT_DOWN, -8, 8), color: '#ff44ee', w: 1.2 },
        ]}
        label="(d)" labelX={39} labelY={237}
        yTitle="Density of state (states/eV)" yTitleX={12} yTitleY={296} yTitleLen={106}
        xTitleX={139} xTitleY={405}
        legend={{ x: 212, y: 218, w: 34, h: 128, y0: 228.7, dy: 7.3, lx0: 215, lx1: 228, tx: 229, fs: 4.6, rows: legendD }}
        spins={[
          { text: 'SPIN UP', x: 137, y: 222.5, len: 36, anchor: 'end' },
          { text: 'SPIN DOWN', x: 138, y: 367, len: 38, anchor: 'end' },
        ]}
      />

      <DosPanel
        id="clipE" x0={288.3} x1={487.7} y0={216.7} y1={379} xd={[-8, 10]} yd={[-7, 7]}
        xTicks={X_TICKS_18} xMinor={X_MINOR_18} yTicks={E_YTICKS} yMinor={E_YMINOR} yFmt={FI}
        curves={[
          { pts: E_S_UP, color: '#f07070' },
          { pts: neg(E_S_UP), color: '#f07070' },
          { pts: E_PZ_UP, color: '#3030a0' },
          { pts: neg(E_PZ_UP), color: '#3030a0' },
          { pts: E_DZ2_UP, color: '#a0a060', dash: '1.5,1' },
          { pts: neg(E_DZ2_UP), color: '#a0a060', dash: '1.5,1' },
          { pts: E_DYZ_UP, color: '#f0e060' },
          { pts: neg(E_DYZ_UP), color: '#f0e060' },
          { pts: E_DX2_UP, color: '#b03050' },
          { pts: neg(E_DX2_UP), color: '#b03050' },
          { pts: E_DXZ_UP, color: '#303080' },
          { pts: E_DXZ_DOWN, color: '#303080' },
          { pts: E_DXY_UP, color: '#ff40ff' },
          { pts: E_DXY_DOWN, color: '#ff40ff' },
          { pts: E_TOT_UP, color: '#a04848', w: 1.2 },
          { pts: span(E_TOT_DOWN, -8, 8.67), color: '#a04848', w: 1.2 },
        ]}
        label="(e)" labelX={292} labelY={233}
        yTitle="Density of state (states/eV)" yTitleX={268} yTitleY={288} yTitleLen={114}
        xTitleX={378} xTitleY={408}
        legend={{ x: 457, y: 214, w: 34, h: 81, y0: 225, dy: 7.3, lx0: 460, lx1: 473, tx: 474.5, fs: 4.6, rows: legendE }}
        spins={[
          { text: 'SPIN UP', x: 375, y: 227, len: 34, anchor: 'end' },
          { text: 'SPIN DOWN', x: 375, y: 372, len: 50, anchor: 'end' },
        ]}
      />

      <DosPanel
        id="clipF" x0={539.3} x1={736} y0={216.7} y1={380.7} xd={[-8, 8]} yd={[-12.5, 15]}
        xTicks={X_TICKS_16} xMinor={X_MINOR_16} yTicks={F_YTICKS} yMinor={F_YMINOR} yFmt={FI}
        curves={[
          { pts: F_S_UP, color: '#f04040', w: 1.6 },
          { pts: neg(F_S_UP), color: '#f04040', w: 1.6 },
          { pts: F_PX_UP, color: '#40e0b0', dash: '3,1' },
          { pts: neg(F_PX_UP), color: '#40e0b0', dash: '3,1' },
          { pts: F_PY_UP, color: '#40f060' },
          { pts: neg(F_PY_UP), color: '#40f060' },
          { pts: F_PZ_UP, color: '#303070' },
          { pts: neg(F_PZ_UP), color: '#303070' },
          { pts: F_TOT_UP, color: '#ff40ff', w: 1.2 },
          { pts: span(F_TOT_DOWN, -8, 8), color: '#ff40ff', w: 1.2 },
        ]}
        label="(f)" labelX={540} labelY={236}
        yTitle="Density of state (states/eV)" yTitleX={517} yTitleY={297} yTitleLen={120}
        xTitleX={643} xTitleY={408}
        legend={{ x: 700, y: 218, w: 36, h: 50, y0: 226.7, dy: 9, lx0: 703, lx1: 722, tx: 723.3, fs: 5.2, rows: legendF }}
        spins={[
          { text: 'SPIN UP', x: 644, y: 231, len: 34 },
          { text: 'SPIN DOWN', x: 644, y: 373, len: 51 },
        ]}
      />
    </svg>
  );
}
